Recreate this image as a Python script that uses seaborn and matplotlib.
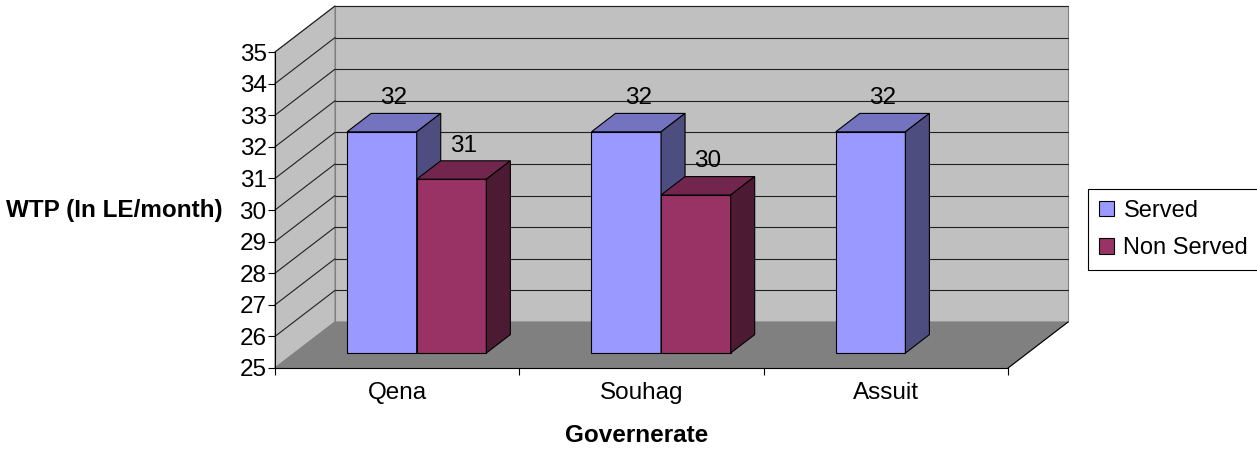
"""
Willingness to pay by governorate, redrawn as an Excel-style 3D bar chart.
"""

import numpy as np
import pandas as pd
import matplotlib
matplotlib.use("Agg")
import matplotlib.pyplot as plt
import matplotlib.patches as mpatches
import matplotlib.colors as mcolors
import seaborn as sns

governorates = ["Qena", "Souhag", "Assuit"]
groups = ["Served", "Non Served"]
served = [32.0, 32.0, 32.0]
non_served = [30.5, 30.0, np.nan]
y_ticks = list(range(25, 36))

FRONT = {"Served": "#9999FF", "Non Served": "#993366"}
TOP = {"Served": "#7373C0", "Non Served": "#73264D"}
SIDE = {"Served": "#4D4D80", "Non Served": "#4D1A33"}
WALL = "#C0C0C0"
FLOOR = "#808080"
FS = 17.5

W, H = 1257, 450
# front plane of the plot area, in pixels
X0, X1, Y0, Y1 = 275, 1008, 368, 52
# depth of the box, in pixels
WALL_DX, WALL_DY = 60, 46
BAR_SHIFT = 0.326   # bars sit this far back into the box
BAR_DEPTH = 0.4     # and are this deep


# ====================
def main():

    sns.set_theme(style="white")
    plt.rcParams["font.family"] = ["Liberation Sans", "DejaVu Sans"]
    plt.rcParams["text.color"] = "black"
    plt.rcParams["axes.labelcolor"] = "black"

    df = pd.DataFrame({
        "Governerate": governorates * 2,
        "WTP": served + non_served,
        "Group": ["Served"] * 3 + ["Non Served"] * 3,
    })

    fig = plt.figure(figsize=(W / 100, H / 100), dpi=100)
    ax = fig.add_axes([X0 / W, (H - Y0) / H, (X1 - X0) / W, (Y0 - Y1) / H])
    sns.barplot(data=df, x="Governerate", y="WTP", hue="Group",
                order=governorates, hue_order=groups, palette=FRONT,
                saturation=1, width=0.57, errorbar=None, edgecolor="black",
                linewidth=0.8, legend=False, ax=ax)
    bars = list(ax.patches)
    ax.set_xlim(-0.5, 2.5)
    ax.set_ylim(25, 35)
    ax.set_facecolor("none")

    # depth offsets in data units
    ux = 3 / (X1 - X0)
    uy = 10 / (Y0 - Y1)
    ddx, ddy = WALL_DX * ux, WALL_DY * uy
    bx, by = BAR_SHIFT * ddx, BAR_SHIFT * ddy
    dx, dy = BAR_DEPTH * ddx, BAR_DEPTH * ddy
    base = y_ticks[0]

    # walls and floor
    wall_kw = dict(clip_on=False, zorder=0.5, linewidth=0.8)
    ax.add_patch(mpatches.Rectangle((-0.5 + ddx, base + ddy), 3, 10,
                                    facecolor=WALL, edgecolor=FLOOR, **wall_kw))
    ax.add_patch(mpatches.Polygon([(-0.5, base), (-0.5 + ddx, base + ddy),
                                   (-0.5 + ddx, 35 + ddy), (-0.5, 35)],
                                  facecolor=WALL, edgecolor=FLOOR, **wall_kw))
    ax.add_patch(mpatches.Polygon([(-0.5, base), (2.5, base),
                                   (2.5 + ddx, base + ddy),
                                   (-0.5 + ddx, base + ddy)],
                                  facecolor=FLOOR, edgecolor=FLOOR, **wall_kw))
    ax.plot([2.5, 2.5 + ddx], [base, base + ddy], color="black", lw=0.8,
            clip_on=False, zorder=0.6)
    for v in y_ticks[1:]:
        ax.plot([-0.5 + ddx, 2.5 + ddx], [v + ddy, v + ddy], color="#202020",
                lw=0.8, clip_on=False, zorder=0.6)
        ax.plot([-0.5, -0.5 + ddx], [v, v + ddy], color="#202020", lw=0.8,
                clip_on=False, zorder=0.6)

    # turn the flat bars into boxes
    bars = [p for p in bars if np.isfinite(p.get_height())]
    bars.sort(key=lambda p: p.get_x())
    for i, p in enumerate(bars):
        hexcol = mcolors.to_hex(p.get_facecolor()).upper()
        group = [g for g in groups if FRONT[g].upper() == hexcol][0]
        x, w, h = p.get_x() + bx, p.get_width(), p.get_height()
        z = 3 + i
        p.set_x(x)
        p.set_y(base + by)
        p.set_height(h - base)
        p.set_zorder(z)
        p.set_clip_on(False)
        top = [(x, h + by), (x + w, h + by), (x + w + dx, h + by + dy),
               (x + dx, h + by + dy)]
        side = [(x + w, base + by), (x + w + dx, base + by + dy),
                (x + w + dx, h + by + dy), (x + w, h + by)]
        ax.add_patch(mpatches.Polygon(top, facecolor=TOP[group],
                                      edgecolor="black", linewidth=0.8,
                                      zorder=z, clip_on=False))
        ax.add_patch(mpatches.Polygon(side, facecolor=SIDE[group],
                                      edgecolor="black", linewidth=0.8,
                                      zorder=z, clip_on=False))
        ax.annotate(f"{np.floor(h + 0.5):.0f}",
                    xy=(x + (w + dx) / 2, h + by + dy), xytext=(0, 3),
                    textcoords="offset points", ha="center", va="bottom",
                    fontsize=FS, color="black", zorder=20,
                    annotation_clip=False)

    # axes, ticks and labels
    for side_name in ["top", "right"]:
        ax.spines[side_name].set_visible(False)
    for side_name in ["left", "bottom"]:
        ax.spines[side_name].set_color("black")
        ax.spines[side_name].set_linewidth(0.8)
        ax.spines[side_name].set_zorder(2)
    ax.set_yticks(y_ticks)
    ax.tick_params(axis="y", which="major", left=True, length=5, width=0.8,
                   direction="out", pad=1, labelsize=FS, colors="black")
    ax.set_xticks(range(len(governorates)))
    ax.set_xticklabels(governorates)
    ax.set_xticks([-0.5, 0.5, 1.5, 2.5], minor=True)
    ax.tick_params(axis="x", which="major", length=0, pad=10, labelsize=FS,
                   colors="black")
    ax.tick_params(axis="x", which="minor", bottom=True, length=5, width=0.8,
                   direction="out", color="black")

    ax.set_xlabel("Governerate", fontsize=FS, fontweight="bold",
                  color="black")
    ax.xaxis.set_label_coords((637 - X0) / (X1 - X0), (Y0 - 435) / (Y0 - Y1))
    ax.xaxis.label.set_va("center")
    ax.set_ylabel("WTP (In LE/month)", fontsize=FS, fontweight="bold",
                  color="black", rotation=0, ha="right", va="center")
    ax.yaxis.set_label_coords((223 - X0) / (X1 - X0), (Y0 - 210) / (Y0 - Y1))

    handles = [mpatches.Patch(facecolor=FRONT[g], edgecolor="black",
                              linewidth=0.8) for g in groups]
    leg = fig.legend(handles, groups, loc="center left",
                     bbox_to_anchor=(1088 / W, 1 - 229.5 / H), frameon=True,
                     fancybox=False, edgecolor="black", framealpha=1,
                     fontsize=17, handlelength=0.65, handleheight=0.65,
                     handletextpad=0.4, labelspacing=0.65, borderpad=0.45,
                     borderaxespad=0)
    leg.get_frame().set_linewidth(0.8)

    fig.savefig("out.png", dpi=100)


# ====================
if __name__ == "__main__":

    main()
